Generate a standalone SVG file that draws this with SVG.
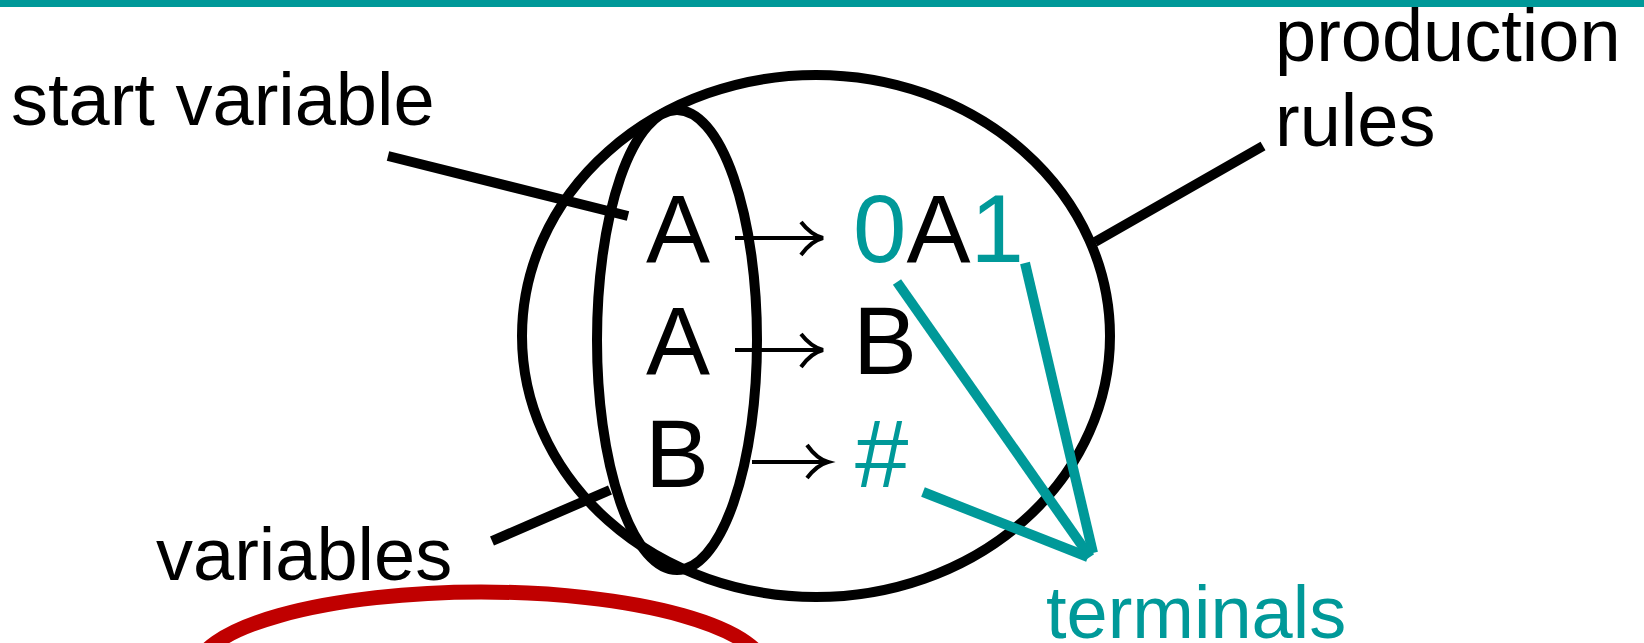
<svg xmlns="http://www.w3.org/2000/svg" width="1644" height="643" viewBox="0 0 1644 643">
<style>
.lbl{font-family:"Liberation Sans",Arial,sans-serif;font-size:74px;fill:#000}
.sym{font-family:"Liberation Sans",Arial,sans-serif;font-size:96px;fill:#000}
.teal{fill:#009999}
.ring{fill:none;stroke:#000;stroke-width:10}
.ptr{stroke:#000;stroke-width:10;fill:none}
.tptr{stroke:#009999;stroke-width:10;fill:none}
.arr{stroke:#000;stroke-width:4;fill:none}
</style>
<rect x="0" y="0" width="1644" height="7" fill="#009999"/>
<g id="red-ellipse">
<ellipse cx="481" cy="672" rx="285" ry="80" fill="none" stroke="#C00000" stroke-width="15"/>
</g>
<g id="grammar">
<ellipse class="ring" cx="816" cy="336" rx="294" ry="261"/>
</g>
<g id="variables-set">
<ellipse class="ring" cx="677" cy="340" rx="80" ry="230"/>
</g>
<g id="connectors">
<line class="ptr" x1="388" y1="156" x2="628" y2="216"/>
<line class="ptr" x1="492" y1="541" x2="610" y2="490"/>
<line class="ptr" x1="1095" y1="242" x2="1263" y2="146"/>
<line class="tptr" x1="897" y1="282" x2="1090" y2="557"/>
<line class="tptr" x1="1025" y1="263" x2="1093" y2="553"/>
<line class="tptr" x1="923" y1="492" x2="1088" y2="557"/>
<path class="arr" d="M735,238H822M801,222Q811,235 823,238Q811,241 801,255"/>
<path class="arr" d="M735,350H822M801,334Q811,347 823,350Q811,353 801,367"/>
<path class="arr" d="M752,462H827M807,445Q817,459 828,462Q817,465 807,478"/>
</g>
<g id="rules">
<text class="sym" x="646" y="262">A</text>
<text class="sym" x="646" y="374">A</text>
<text class="sym" x="645" y="487">B</text>
<text class="sym" x="853" y="262"><tspan class="teal">0</tspan>A<tspan class="teal">1</tspan></text>
<text class="sym" x="853" y="374">B</text>
<text class="sym teal" x="855" y="487">#</text>
</g>
<g id="label-start">
<text class="lbl" x="11" y="125">start variable</text>
</g>
<g id="label-production">
<text class="lbl" x="1275" y="61">production</text>
<text class="lbl" x="1275" y="146">rules</text>
</g>
<g id="label-variables">
<text class="lbl" x="156" y="580">variables</text>
</g>
<g id="label-terminals">
<text class="lbl teal" x="1046" y="638">terminals</text>
</g>
</svg>
